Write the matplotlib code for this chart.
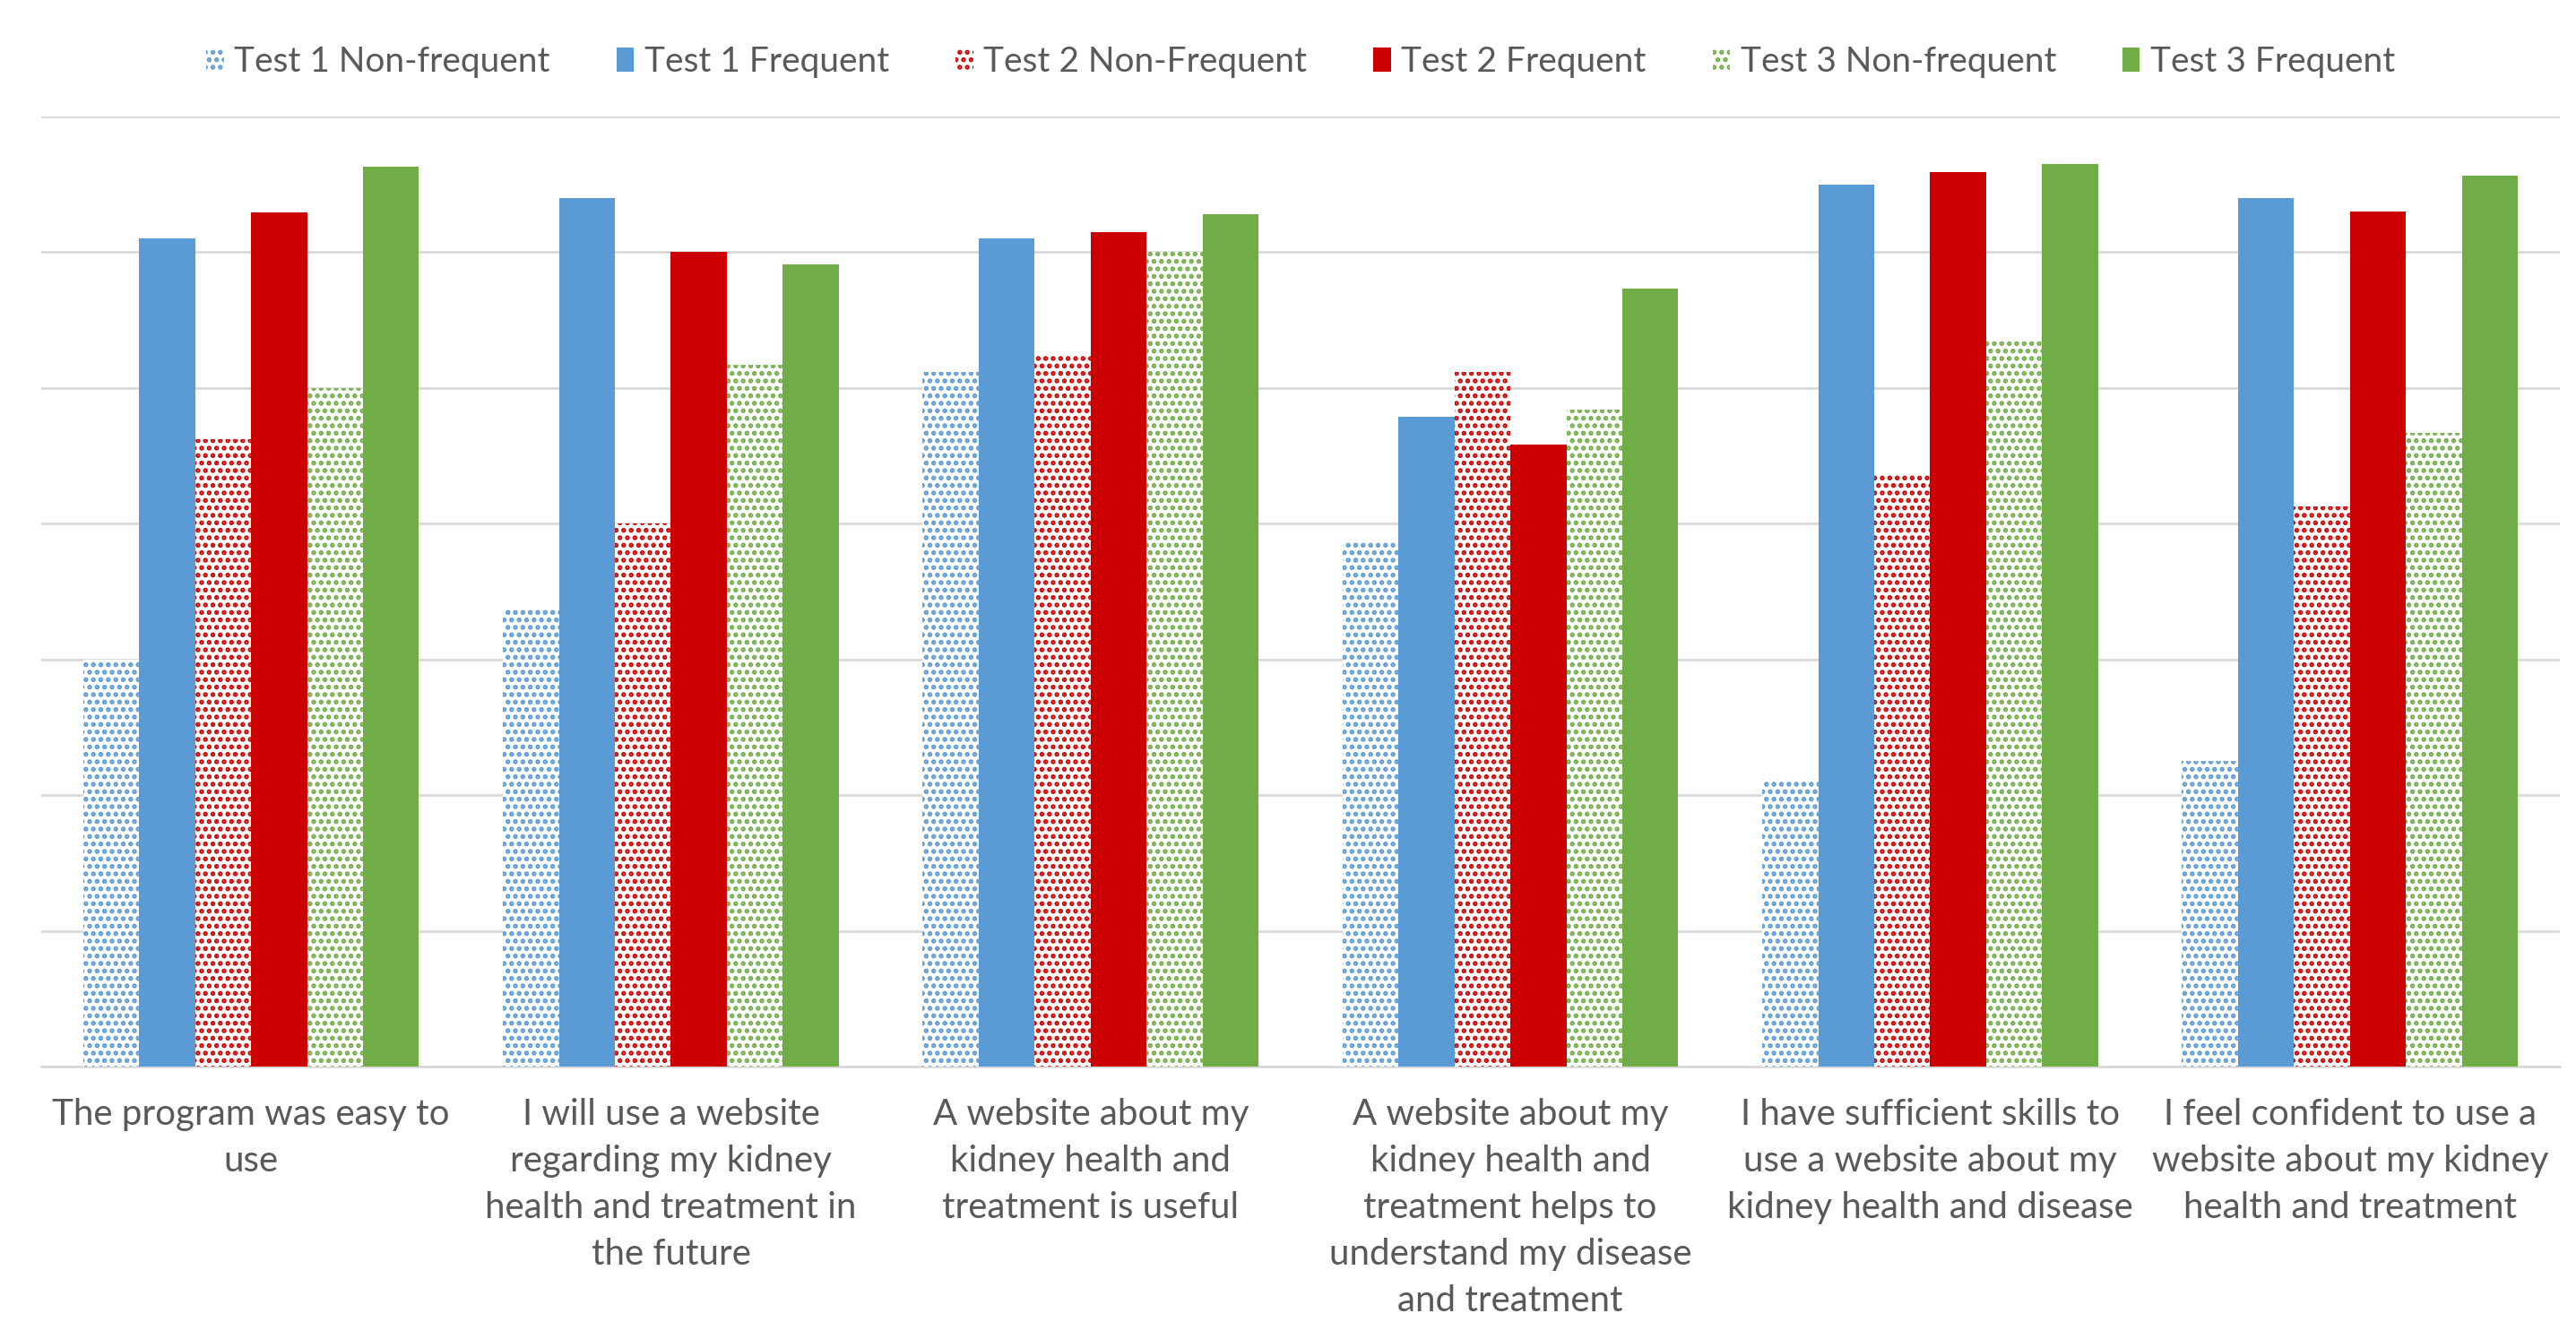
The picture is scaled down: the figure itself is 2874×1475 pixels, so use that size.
import numpy as np
import matplotlib
matplotlib.use("Agg")
import matplotlib.pyplot as plt

plt.rcParams['font.family'] = ['Lato', 'DejaVu Sans']
plt.rcParams['hatch.linewidth'] = 1.3

# data (in gridline units)
categories = [
    "The program was easy to\nuse",
    "I will use a website\nregarding my kidney\nhealth and treatment in\nthe future",
    "A website about my\nkidney health and\ntreatment is useful",
    "A website about my\nkidney health and\ntreatment helps to\nunderstand my disease\nand treatment",
    "I have sufficient skills to\nuse a website about my\nkidney health and disease",
    "I feel confident to use a\nwebsite about my kidney\nhealth and treatment",
]
series_names = ["Test 1 Non-frequent", "Test 1 Frequent", "Test 2 Non-Frequent",
                "Test 2 Frequent", "Test 3 Non-frequent", "Test 3 Frequent"]
t1_nonfreq = [3.00, 3.37, 5.12, 3.87, 2.12, 2.25]
t1_freq    = [6.10, 6.40, 6.10, 4.79, 6.50, 6.40]
t2_nonfreq = [4.62, 4.00, 5.25, 5.12, 4.37, 4.13]
t2_freq    = [6.29, 6.00, 6.15, 4.58, 6.59, 6.30]
t3_nonfreq = [5.00, 5.17, 6.00, 4.84, 5.34, 4.67]
t3_freq    = [6.63, 5.91, 6.28, 5.73, 6.65, 6.56]

series = [t1_nonfreq, t1_freq, t2_nonfreq, t2_freq, t3_nonfreq, t3_freq]
colors = ['#5B9BD5', '#5B9BD5', '#CC0000', '#CC0000', '#70AD47', '#70AD47']
dotted = [True, False, True, False, True, False]

fig = plt.figure(figsize=(14.37, 7.375), dpi=200)
ax = fig.add_axes([0.016, 0.193, 0.9777, 0.719])

x = np.arange(len(categories))
w = 1 / 7.5
for k, (vals, col, dot) in enumerate(zip(series, colors, dotted)):
    pos = x + (k - 2.5) * w
    if dot:
        ax.bar(pos, vals, w, facecolor='white', edgecolor=col, hatch='....',
               linewidth=0, label=series_names[k], zorder=3)
    else:
        ax.bar(pos, vals, w, color=col, linewidth=0, label=series_names[k], zorder=3)

ax.set_xlim(-0.5, len(categories) - 0.5)
ax.set_ylim(0, 7)
ax.set_yticks(np.arange(0, 8))
ax.yaxis.grid(True, color='#d9d9d9', lw=1.0, zorder=0)
ax.tick_params(axis='y', left=False, labelleft=False)
ax.tick_params(axis='x', bottom=False, pad=9)
ax.set_xticks(x)
ax.set_xticklabels(categories, fontsize=14.5, color='#595959', linespacing=1.5)
for s in ['top', 'right', 'left']:
    ax.spines[s].set_visible(False)
ax.spines['bottom'].set_color('#d9d9d9')
ax.spines['bottom'].set_linewidth(1.0)

fig.legend(loc='center', bbox_to_anchor=(0.505, 0.953), ncol=6, frameon=False,
           fontsize=14, labelcolor='#595959', handlelength=0.5, handleheight=0.7,
           handletextpad=0.3, columnspacing=1.9)

fig.savefig("out.png", dpi=200)
